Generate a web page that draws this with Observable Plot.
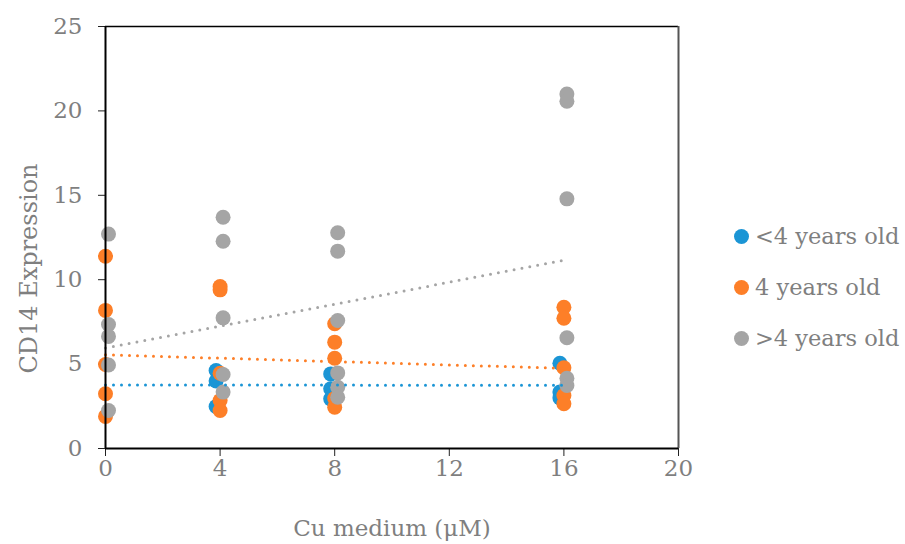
<!DOCTYPE html>
<html><head><meta charset="utf-8">
<script src="https://cdn.jsdelivr.net/npm/d3@7"></script>
<script src="https://cdn.jsdelivr.net/npm/@observablehq/plot@0.6"></script>
<style>
body{margin:0;background:#fff;}
#wrap{position:relative;width:905px;height:544px;font-family:"DejaVu Serif",serif;color:#7f7f7f;}
.item{position:absolute;left:734px;height:28px;display:flex;align-items:center;font-size:22.5px;white-space:nowrap;}
.sw{width:15px;height:15px;border-radius:50%;margin-right:6px;}
g[aria-label="x-axis tick"], g[aria-label="y-axis tick"]{stroke:#222;}
</style></head>
<body><div id="wrap"><div id="chart"></div></div>
<script>
const groups = ["<4 years old", "4 years old", ">4 years old"];
const colors = ["#1b95d5", "#fd7f28", "#a5a5a5"];
const xTicks = [0, 4, 8, 12, 16, 20];
const yTicks = [0, 5, 10, 15, 20, 25];

// series: x = Cu medium (µM), y = CD14 expression
const youngX = [4, 4, 4, 8, 8, 8, 16, 16, 16];
const youngY = [4.62, 4.0, 2.49, 4.42, 3.54, 2.94, 5.05, 3.34, 3.0];
const midX = [0, 0, 0, 0, 0, 4, 4, 4, 4, 4, 8, 8, 8, 8, 8, 16, 16, 16, 16, 16];
const midY = [11.39, 8.18, 4.98, 3.24, 1.9, 9.6, 9.4, 4.46, 2.84, 2.25, 7.39, 6.3, 5.35, 2.96, 2.45, 8.37, 7.72, 4.78, 3.14, 2.65];
const oldX = [0, 0, 0, 0, 0, 4, 4, 4, 4, 4, 8, 8, 8, 8, 8, 8, 16, 16, 16, 16, 16, 16];
const oldY = [12.7, 7.35, 6.64, 4.95, 2.25, 13.7, 12.28, 7.74, 4.38, 3.34, 12.78, 11.69, 7.58, 4.48, 3.63, 3.04, 21.0, 20.57, 14.79, 6.56, 4.16, 3.73];

// linear trend lines (endpoints at x = 0 and x = 16)
const trendX = [0, 16];
const youngTrend = [3.76, 3.75];
const midTrend = [5.55, 4.75];
const oldTrend = [5.95, 11.15];

const seriesX = [youngX, midX, oldX];
const seriesY = [youngY, midY, oldY];
const trends = [youngTrend, midTrend, oldTrend];
const offsets = [-4, 0, 3];

const points = [];
seriesX.forEach((xs, g) => xs.forEach((x, i) => points.push({group: groups[g], x, y: seriesY[g][i]})));
const trendRows = [];
trends.forEach((t, g) => t.forEach((y, i) => trendRows.push({group: groups[g], x: trendX[i], y})));

const font = "\"DejaVu Serif\", serif";
const marks = [
  Plot.ruleY([25], {stroke: "#000", strokeWidth: 1.5}),
  Plot.ruleX([20], {stroke: "#555", strokeWidth: 2}),
  Plot.axisX({ticks: xTicks, tickSize: 8, tickPadding: 3, label: "Cu medium (μM)", labelAnchor: "center", labelOffset: 87, labelArrow: "none", fontSize: 23}),
  Plot.axisY({ticks: yTicks, tickSize: 7, tickPadding: 16, label: null, fontSize: 23}),
  Plot.text(["CD14 Expression"], {frameAnchor: "left", textAnchor: "middle", rotate: -90, dx: -76, dy: 31, fontSize: 24, fill: "#7f7f7f"})
];
groups.forEach((g, k) => {
  marks.push(Plot.dot(points.filter(d => d.group === g), {x: "x", y: "y", r: 7.5, fill: colors[k], dx: offsets[k]}));
});
groups.forEach((g, k) => {
  marks.push(Plot.line(trendRows.filter(d => d.group === g), {x: "x", y: "y", stroke: colors[k], strokeWidth: 3, strokeDasharray: "0 8", strokeLinecap: "round"}));
});
marks.push(Plot.ruleY([0], {stroke: "#000", strokeWidth: 2}));
marks.push(Plot.ruleX([0], {stroke: "#000", strokeWidth: 2}));

const chart = Plot.plot({
  width: 905, height: 544,
  marginLeft: 105, marginRight: 227, marginTop: 26, marginBottom: 96,
  x: {domain: [0, 20]},
  y: {domain: [0, 25]},
  style: {fontFamily: font, fontSize: "23px", color: "#7f7f7f", background: "white", overflow: "visible"},
  marks
});
document.getElementById("chart").appendChild(chart);

const wrap = document.getElementById("wrap");
groups.forEach((g, k) => {
  const it = document.createElement("div");
  it.className = "item";
  it.style.top = (222 + k * 51) + "px";
  const sw = document.createElement("span");
  sw.className = "sw";
  sw.style.background = colors[k];
  const tx = document.createElement("span");
  tx.textContent = g;
  it.appendChild(sw); it.appendChild(tx);
  wrap.appendChild(it);
});
</script>
</body></html>
